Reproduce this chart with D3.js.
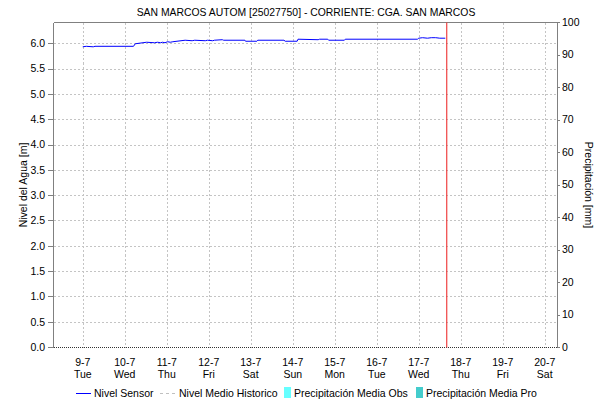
<!DOCTYPE html>
<html>
<head>
<meta charset="utf-8">
<script src="https://cdn.jsdelivr.net/npm/d3@7"></script>
<style>
  body { margin: 0; background: #fff; }
  svg { display: block; }
  text { font-family: "Liberation Sans", Arial, sans-serif; fill: #000; }
</style>
</head>
<body>
<svg id="chart" width="603" height="404"></svg>
<script>
// ---- data ----
const titleText = "SAN MARCOS AUTOM [25027750] - CORRIENTE: CGA. SAN MARCOS";
const leftTitle = "Nivel del Agua [m]";
const rightTitle = "Precipitación [mm]";

// sensor readings (time, level in m)
const sensorTimes = [
  "2019-07-09 00:00", "2019-07-09 02:00", "2019-07-09 06:00", "2019-07-09 07:00",
  "2019-07-10 05:00", "2019-07-10 06:00", "2019-07-10 12:30", "2019-07-10 17:00",
  "2019-07-10 18:45", "2019-07-10 20:30", "2019-07-10 21:30", "2019-07-10 23:00",
  "2019-07-11 00:30", "2019-07-11 02:00", "2019-07-11 03:30", "2019-07-11 10:30",
  "2019-07-11 14:30", "2019-07-11 16:00", "2019-07-11 22:00", "2019-07-11 23:15",
  "2019-07-12 02:15", "2019-07-12 03:15", "2019-07-12 07:45", "2019-07-12 08:30",
  "2019-07-12 20:40", "2019-07-12 21:00", "2019-07-13 03:30", "2019-07-13 04:00",
  "2019-07-13 19:00", "2019-07-13 19:40", "2019-07-14 02:30", "2019-07-14 03:00",
  "2019-07-14 14:30", "2019-07-14 15:20", "2019-07-14 20:00", "2019-07-14 20:30",
  "2019-07-15 05:30", "2019-07-15 06:00", "2019-07-16 23:15", "2019-07-17 00:00",
  "2019-07-17 02:10", "2019-07-17 05:00", "2019-07-17 07:10", "2019-07-17 09:40",
  "2019-07-17 12:00", "2019-07-17 15:10"
];
const sensorLevels = [
  5.93, 5.94, 5.93, 5.94,
  5.94, 5.99, 6.02, 6.01,
  6.02, 6.01, 6.02, 6.01,
  6.03, 6.02, 6.03, 6.06,
  6.05, 6.06, 6.05, 6.06,
  6.05, 6.06, 6.07, 6.06,
  6.06, 6.04, 6.04, 6.06,
  6.06, 6.04, 6.04, 6.08,
  6.07, 6.08, 6.08, 6.06,
  6.06, 6.08, 6.08, 6.10,
  6.11, 6.10, 6.11, 6.11,
  6.10, 6.10
];

const nowTime = "2019-07-17 16:00";
const xStart = "2019-07-08 07:00";
const xEnd = "2019-07-20 07:00";
const dayTicks = ["2019-07-09", "2019-07-10", "2019-07-11", "2019-07-12", "2019-07-13", "2019-07-14",
                  "2019-07-15", "2019-07-16", "2019-07-17", "2019-07-18", "2019-07-19", "2019-07-20"];
const weekdayNames = ["Sun", "Mon", "Tue", "Wed", "Thu", "Fri", "Sat"];
const levelTicks = [0, 0.5, 1, 1.5, 2, 2.5, 3, 3.5, 4, 4.5, 5, 5.5, 6];
const levelMax = 6.42;
const rainTicks = [0, 10, 20, 30, 40, 50, 60, 70, 80, 90, 100];
const rainMax = 100;

const legendLabels = ["Nivel Sensor", "Nivel Medio Historico", "Precipitación Media Obs", "Precipitación Media Pro"];
const legendKinds = ["line", "dash", "box", "box"];
const legendColors = ["#0000ff", "#c0c0c0", "#66ffff", "#44cccc"];
const legendX = [76, 160, 284, 416];

// ---- chart ----
const parseTime = d3.timeParse("%Y-%m-%d %H:%M");
const parseDay = d3.timeParse("%Y-%m-%d");
const fmtDay = d3.timeFormat("%-d-%-m");

const svg = d3.select("#chart");
const plotL = 53, plotR = 557, plotT = 22, plotB = 347;

const x = d3.scaleTime().domain([parseTime(xStart), parseTime(xEnd)]).range([plotL, plotR]);
const y = d3.scaleLinear().domain([0, levelMax]).range([plotB, plotT]);
const yr = d3.scaleLinear().domain([0, rainMax]).range([plotB, plotT]);

const gridColor = "#c4c4c4";
const axisColor = "#808080";

// grid
const grid = svg.append("g").attr("shape-rendering", "crispEdges");
grid.selectAll("line.h").data(levelTicks.filter(d => d > 0)).join("line")
  .attr("x1", plotL + 0.5).attr("x2", plotR + 0.5)
  .attr("y1", d => Math.round(y(d)) + 0.5).attr("y2", d => Math.round(y(d)) + 0.5)
  .attr("stroke", gridColor).attr("stroke-dasharray", "2,2");
grid.selectAll("line.v").data(dayTicks.map(parseDay)).join("line")
  .attr("x1", d => Math.round(x(d)) + 0.5).attr("x2", d => Math.round(x(d)) + 0.5)
  .attr("y1", plotT + 0.5).attr("y2", plotB + 0.5)
  .attr("stroke", gridColor).attr("stroke-dasharray", "2,2");

// frame: top border
svg.append("line").attr("x1", plotL + 0.5).attr("x2", plotR + 0.5)
  .attr("y1", plotT + 0.5).attr("y2", plotT + 0.5)
  .attr("stroke", axisColor).attr("shape-rendering", "crispEdges");

// left axis
const gl = svg.append("g").attr("transform", `translate(${plotL},0)`)
  .call(d3.axisLeft(y).tickValues(levelTicks).tickFormat(d3.format(".1f")).tickSizeInner(5).tickSizeOuter(0).tickPadding(3));
gl.select(".domain").attr("stroke", axisColor);
gl.selectAll(".tick line").attr("stroke", axisColor);
gl.selectAll(".tick text").attr("font-size", "10.5px").attr("font-family", null).attr("fill", "#111");
gl.attr("shape-rendering", "crispEdges");

// right axis
const gr = svg.append("g").attr("transform", `translate(${plotR},0)`)
  .call(d3.axisRight(yr).tickValues(rainTicks).tickSizeInner(3).tickSizeOuter(0).tickPadding(2));
gr.select(".domain").attr("stroke", axisColor);
gr.selectAll(".tick line").attr("stroke", axisColor);
gr.selectAll(".tick text").attr("font-size", "10.5px").attr("font-family", null).attr("fill", "#111");
gr.attr("shape-rendering", "crispEdges");

// bottom axis: dotted base line
svg.append("line").attr("x1", plotL + 0.5).attr("x2", plotR + 0.5)
  .attr("y1", plotB + 0.5).attr("y2", plotB + 0.5)
  .attr("stroke", "#333").attr("stroke-dasharray", "1,1")
  .attr("shape-rendering", "crispEdges");

// day labels
const xl = svg.append("g");
const dayLabel = xl.selectAll("text").data(dayTicks.map(parseDay)).join("text")
  .attr("text-anchor", "middle").attr("font-size", "10.5px").attr("fill", "#111");
dayLabel.append("tspan").attr("x", d => x(d)).attr("y", 366).text(d => fmtDay(d));
dayLabel.append("tspan").attr("x", d => x(d)).attr("y", 378).text(d => weekdayNames[d.getDay()]);

// sensor level line
const series = sensorTimes.map((t, i) => ({ t: parseTime(t), v: sensorLevels[i] }));
svg.append("path").datum(series)
  .attr("fill", "none").attr("stroke", "#0000ff").attr("stroke-width", 1)
  .attr("d", d3.line().x(d => x(d.t)).y(d => y(d.v)));

// current time marker
const nx = x(parseTime(nowTime));
svg.append("line").attr("x1", nx).attr("x2", nx).attr("y1", plotT + 0.5).attr("y2", plotB + 0.5)
  .attr("stroke", "#ee3030").attr("stroke-width", 1.1);

// titles
svg.append("text").attr("x", 306).attr("y", 16).attr("text-anchor", "middle")
  .attr("font-size", "10.4px").attr("fill", "#111").text(titleText);
svg.append("text").attr("transform", "translate(27,185) rotate(-90)")
  .attr("text-anchor", "middle").attr("font-size", "10.5px").attr("fill", "#111").text(leftTitle);
svg.append("text").attr("transform", "translate(585,185) rotate(90)")
  .attr("text-anchor", "middle").attr("font-size", "10.5px").attr("fill", "#111").text(rightTitle);

// legend
const lg = svg.append("g");
legendLabels.forEach((label, i) => {
  const lx = legendX[i];
  let tx;
  if (legendKinds[i] === "line") {
    lg.append("line").attr("x1", lx).attr("x2", lx + 15).attr("y1", 393.5).attr("y2", 393.5)
      .attr("stroke", legendColors[i]).attr("shape-rendering", "crispEdges");
    tx = lx + 18;
  } else if (legendKinds[i] === "dash") {
    lg.append("line").attr("x1", lx).attr("x2", lx + 15).attr("y1", 393.5).attr("y2", 393.5)
      .attr("stroke", legendColors[i]).attr("stroke-dasharray", "3,3").attr("shape-rendering", "crispEdges");
    tx = lx + 19;
  } else {
    lg.append("rect").attr("x", lx).attr("y", 387).attr("width", 7).attr("height", 11)
      .attr("fill", legendColors[i]);
    tx = lx + 10;
  }
  lg.append("text").attr("x", tx).attr("y", 397).attr("font-size", "10.5px").attr("fill", "#111").text(label);
});
</script>
</body>
</html>
